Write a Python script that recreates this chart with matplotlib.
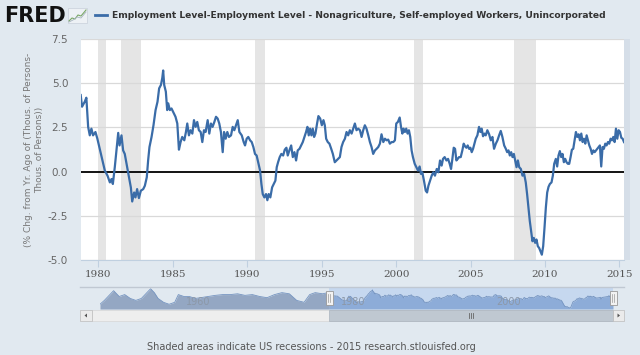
import matplotlib
matplotlib.use("Agg")
import matplotlib.pyplot as plt
from matplotlib.patches import Rectangle, Polygon

# ── Data ─────────────────────────────────────────────────────────────────────
dates = [
    1978.81, 1978.90, 1979.08, 1979.19, 1979.31, 1979.42, 1979.53, 1979.64, 1979.80, 1979.93,
    1980.09, 1980.25, 1980.43, 1980.61, 1980.77, 1980.88, 1980.97, 1981.10, 1981.21, 1981.33,
    1981.42, 1981.55, 1981.66, 1981.77, 1981.89, 1982.04, 1982.18, 1982.27, 1982.40, 1982.49,
    1982.60, 1982.72, 1982.85, 1983.01, 1983.12, 1983.25, 1983.34, 1983.43, 1983.57, 1983.70,
    1983.84, 1983.97, 1984.08, 1984.20, 1984.29, 1984.35, 1984.42, 1984.53, 1984.62, 1984.69,
    1984.80, 1984.91, 1985.07, 1985.18, 1985.30, 1985.41, 1985.52, 1985.63, 1985.77, 1985.88,
    1985.97, 1986.08, 1986.19, 1986.31, 1986.42, 1986.53, 1986.64, 1986.75, 1986.87, 1986.98,
    1987.09, 1987.20, 1987.34, 1987.45, 1987.56, 1987.67, 1987.79, 1987.90, 1988.01, 1988.12,
    1988.23, 1988.35, 1988.44, 1988.55, 1988.66, 1988.77, 1988.91, 1989.02, 1989.13, 1989.24,
    1989.36, 1989.47, 1989.63, 1989.76, 1989.85, 1989.96, 1990.07, 1990.19, 1990.30, 1990.41,
    1990.52, 1990.63, 1990.86, 1990.95, 1991.04, 1991.15, 1991.26, 1991.35, 1991.44, 1991.55,
    1991.67, 1991.78, 1991.89, 1991.98, 1992.07, 1992.18, 1992.29, 1992.41, 1992.52, 1992.63,
    1992.72, 1992.83, 1992.95, 1993.06, 1993.17, 1993.28, 1993.39, 1993.51, 1993.62, 1993.73,
    1993.84, 1993.95, 1994.04, 1994.13, 1994.22, 1994.31, 1994.40, 1994.49, 1994.58, 1994.69,
    1994.78, 1994.90, 1995.01, 1995.12, 1995.21, 1995.30, 1995.41, 1995.52, 1995.64, 1995.75,
    1995.88, 1996.00, 1996.11, 1996.22, 1996.33, 1996.44, 1996.56, 1996.67, 1996.78, 1996.89,
    1997.01, 1997.12, 1997.23, 1997.34, 1997.45, 1997.57, 1997.68, 1997.79, 1997.90, 1998.01,
    1998.13, 1998.24, 1998.35, 1998.46, 1998.58, 1998.69, 1998.80, 1998.91, 1999.02, 1999.14,
    1999.25, 1999.36, 1999.47, 1999.58, 1999.70, 1999.81, 1999.92, 2000.01, 2000.12, 2000.24,
    2000.33, 2000.42, 2000.50, 2000.59, 2000.68, 2000.77, 2000.86, 2000.95, 2001.04, 2001.13,
    2001.25, 2001.36, 2001.47, 2001.58, 2001.67, 2001.76, 2001.87, 2001.99, 2002.08, 2002.17,
    2002.28, 2002.39, 2002.50, 2002.61, 2002.73, 2002.84, 2002.95, 2003.06, 2003.15, 2003.26,
    2003.38, 2003.49, 2003.60, 2003.69, 2003.78, 2003.87, 2003.96, 2004.05, 2004.14, 2004.23,
    2004.34, 2004.45, 2004.54, 2004.63, 2004.72, 2004.81, 2004.90, 2004.99, 2005.08, 2005.17,
    2005.26, 2005.35, 2005.46, 2005.57, 2005.66, 2005.75, 2005.84, 2005.93, 2006.02, 2006.13,
    2006.25, 2006.36, 2006.47, 2006.58, 2006.70, 2006.81, 2006.92, 2007.03, 2007.14, 2007.26,
    2007.37, 2007.46, 2007.55, 2007.64, 2007.73, 2007.82, 2007.91, 2008.00, 2008.09, 2008.18,
    2008.27, 2008.38, 2008.49, 2008.60, 2008.71, 2008.80, 2008.89, 2008.98, 2009.07, 2009.16,
    2009.25, 2009.34, 2009.43, 2009.52, 2009.61, 2009.70, 2009.79, 2009.88, 2009.97, 2010.06,
    2010.15, 2010.24, 2010.33, 2010.44, 2010.53, 2010.62, 2010.73, 2010.82, 2010.91, 2011.00,
    2011.09, 2011.18, 2011.27, 2011.36, 2011.45, 2011.54, 2011.63, 2011.72, 2011.81, 2011.90,
    2011.99, 2012.08, 2012.17, 2012.26, 2012.35, 2012.44, 2012.53, 2012.62, 2012.71, 2012.80,
    2012.89, 2012.98, 2013.07, 2013.16, 2013.25, 2013.34, 2013.43, 2013.52, 2013.60, 2013.69,
    2013.78, 2013.87, 2013.96, 2014.05, 2014.14, 2014.23, 2014.32, 2014.41, 2014.50, 2014.59,
    2014.68, 2014.77, 2014.86, 2014.95, 2015.04, 2015.13, 2015.22, 2015.31,
]
values = [
    4.33, 3.67, 3.95, 4.18, 2.53, 2.05, 2.43, 2.05, 2.24, 1.86,
    1.29, 0.72, 0.06, -0.23, -0.61, -0.42, -0.70, 0.25, 1.20, 2.19,
    1.48, 2.05, 1.20, 1.00, 0.44, -0.23, -0.90, -1.69, -1.18, -1.46,
    -0.99, -1.50, -1.08, -0.99, -0.80, -0.32, 0.63, 1.39, 1.96, 2.62,
    3.48, 3.95, 4.71, 4.90, 5.29, 5.72, 4.90, 4.52, 3.48, 3.86,
    3.48, 3.57, 3.29, 3.10, 2.72, 1.24, 1.67, 1.96, 1.77, 2.24,
    2.72, 2.05, 2.34, 2.15, 2.91, 2.53, 2.81, 2.34, 2.24, 1.67,
    2.34, 2.24, 2.91, 2.15, 2.72, 2.53, 2.81, 3.10, 3.00, 2.72,
    2.24, 1.10, 2.24, 1.86, 2.24, 1.96, 2.05, 2.53, 2.34, 2.62,
    2.91, 2.24, 2.05, 1.67, 1.48, 1.86, 1.96, 1.77, 1.67, 1.39,
    1.00, 0.91, 0.06, -0.70, -1.27, -1.46, -1.27, -1.62, -1.27, -1.46,
    -0.89, -0.70, -0.51, 0.25, 0.53, 0.82, 1.00, 0.91, 1.24, 1.35,
    0.91, 1.20, 1.48, 0.82, 1.10, 0.63, 1.20, 1.29, 1.48, 1.67,
    1.96, 2.24, 2.53, 2.05, 2.43, 2.05, 2.43, 1.96, 2.15, 2.72,
    3.14, 3.00, 2.62, 2.91, 2.62, 1.86, 1.67, 1.58, 1.29, 1.00,
    0.53, 0.63, 0.72, 0.82, 1.39, 1.67, 1.86, 2.24, 2.05, 2.34,
    2.15, 2.43, 2.72, 2.34, 2.43, 2.34, 1.96, 2.34, 2.62, 2.43,
    2.05, 1.67, 1.39, 1.00, 1.20, 1.29, 1.39, 1.58, 2.11, 1.67,
    1.86, 1.77, 1.81, 1.58, 1.67, 1.67, 1.77, 2.72, 2.81, 3.06,
    2.53, 2.15, 2.43, 2.24, 2.43, 2.15, 2.34, 1.96, 1.20, 0.82,
    0.44, 0.25, 0.06, 0.29, -0.13, -0.04, -0.51, -1.08, -1.18, -0.80,
    -0.51, -0.23, -0.04, -0.23, 0.15, -0.04, 0.63, 0.34, 0.72, 0.82,
    0.63, 0.72, 0.44, 0.15, 0.72, 1.35, 1.29, 0.63, 0.72, 0.82,
    0.82, 1.20, 1.58, 1.43, 1.35, 1.48, 1.29, 1.35, 1.10, 1.29,
    1.58, 1.86, 2.05, 2.53, 2.24, 2.43, 2.00, 2.15, 2.05, 2.34,
    2.11, 1.77, 1.96, 1.29, 1.58, 1.77, 2.05, 2.30, 1.96, 1.48,
    1.29, 1.10, 1.20, 0.91, 1.10, 0.82, 1.00, 0.63, 0.25, 0.63,
    0.25, 0.15, -0.23, -0.13, -0.61, -1.27, -2.03, -2.79, -3.36, -3.94,
    -3.75, -4.03, -3.84, -4.22, -4.32, -4.51, -4.70, -4.22, -3.17, -2.03,
    -1.18, -0.86, -0.70, -0.61, -0.23, 0.44, 0.72, 0.29, 0.91, 1.16,
    0.82, 1.00, 0.53, 0.72, 0.53, 0.44, 0.44, 0.82, 1.24, 1.29,
    1.77, 2.24, 1.96, 2.11, 1.77, 2.15, 1.67, 1.86, 1.58, 2.05,
    1.77, 1.48, 1.29, 1.00, 1.20, 1.10, 1.20, 1.29, 1.39, 1.48,
    0.29, 1.39, 1.29, 1.58, 1.48, 1.67, 1.58, 1.86, 1.77, 1.96,
    1.67, 2.43, 1.86, 2.34, 2.24, 1.91, 1.86, 1.67,
]

# earlier history, only visible in the navigator strip
nav_dates = [
    1949.30, 1949.86, 1950.58, 1951.05, 1951.77, 1952.48, 1953.20, 1953.91, 1954.62, 1955.34,
    1955.81, 1956.29, 1956.77, 1957.48, 1958.19, 1958.91, 1959.38, 1960.10, 1960.81, 1961.53,
    1962.24, 1963.19, 1964.14, 1965.09, 1966.05, 1967.00, 1967.95, 1968.90, 1969.85, 1970.80,
    1971.76, 1972.71, 1973.66, 1974.61, 1975.56, 1976.28, 1976.99, 1977.94,
]
nav_values = [
    -2.49, -0.28, 3.04, 5.26, 1.94, 3.04, 0.83, -0.28, 0.83, 4.15,
    6.36, 4.15, 0.83, -1.38, -2.49, -1.38, 3.04, 1.94, 1.94, 0.83,
    1.27, 1.94, 2.60, 3.04, 3.04, 3.49, 2.60, 3.04, 1.94, 1.27,
    3.04, 4.15, 3.49, -0.28, -1.38, 3.04, 4.15, 3.49,
]

recessions = [(1980.0, 1980.5), (1981.5, 1982.83), (1990.5, 1991.17),
              (2001.17, 2001.83), (2007.92, 2009.42)]
yticks = [-5.0, -2.5, 0.0, 2.5, 5.0, 7.5]
xticks = [1980, 1985, 1990, 1995, 2000, 2005, 2010, 2015]
nav_labels = [1960, 1980, 2000]

title = "Employment Level-Employment Level - Nonagriculture, Self-employed Workers, Unincorporated"
ylabel = "(% Chg. from Yr. Ago of (Thous. of Persons-\nThous. of Persons))"
note = "Shaded areas indicate US recessions - 2015 research.stlouisfed.org"

BG = "#E1E9F0"
LINE = "#3A6CA8"
W, H = 640, 355

fig = plt.figure(figsize=(6.4, 3.55), dpi=100, facecolor=BG)


def px_axes(x0, y0, x1, y1, **kw):
    # axes placed by pixel box (top-left origin)
    return fig.add_axes([x0 / W, 1 - y1 / H, (x1 - x0) / W, (y1 - y0) / H], **kw)


# ── Main chart ───────────────────────────────────────────────────────────────
ax = px_axes(80.7, 39, 624, 260)
ax.set_facecolor("white")
for a, b in recessions:
    ax.axvspan(a, b, color="#E5E5E5", lw=0, zorder=0)
for y in yticks:
    if y != 0:
        ax.axhline(y, color="#D9D9D9", lw=0.9, zorder=1)
ax.axhline(0, color="black", lw=1.3, zorder=2)
ax.plot(dates, values, color=LINE, lw=1.6, zorder=3)

ax.set_xlim(dates[0], dates[-1])
ax.set_ylim(yticks[0], yticks[-1])
ax.set_yticks(yticks)
ax.set_yticklabels([f"{v:.1f}" for v in yticks])
ax.set_xticks(xticks)
ax.set_xticklabels([str(x) for x in xticks])
for s in ["top", "right", "left"]:
    ax.spines[s].set_visible(False)
ax.spines["bottom"].set_color("#C0D0E0")
ax.tick_params(axis="y", length=0, pad=9, labelsize=7.5, labelcolor="#666666")
ax.tick_params(axis="x", length=5, width=0.8, color="#C0D0E0", pad=2,
               labelsize=7.5, labelcolor="#555555")
for lbl in ax.get_xticklabels():
    lbl.set_fontfamily("DejaVu Serif")

fig.text(34 / W, 1 - 150 / H, ylabel, rotation=90, ha="center", va="center",
         multialignment="center", fontsize=6.5, color="#777777", linespacing=1.35)

# ── Navigator ────────────────────────────────────────────────────────────────
nav = px_axes(100, 288, 613, 309)
nav.axis("off")
nav.set_xlim(nav_dates[0], dates[-1])
nav.set_ylim(-5.2, 6.8)
nav.axvspan(dates[0], dates[-1], color="#C6D8EF", lw=0, zorder=0)
nav.fill_between(nav_dates + [dates[0]], nav_values + [values[0]], -5.2,
                 color="#94A7C3", lw=0, zorder=1)
nav.fill_between(dates, values, -5.2, color="#8DACD8", lw=0, zorder=1)
nav.plot(nav_dates + dates, nav_values + values, color="#7594C0", lw=0.6, zorder=2)
for yr in nav_labels:
    nav.text(yr + 0.3, 0.33, str(yr), transform=nav.get_xaxis_transform(),
             fontsize=7, color="#8C98A8", va="center", ha="left", zorder=3)

# ── Decorations drawn in pixel space ────────────────────────────────────────
ov = fig.add_axes([0, 0, 1, 1], zorder=5)
ov.set_xlim(0, W)
ov.set_ylim(H, 0)
ov.axis("off")

# FRED logo + icon
ov.text(4, 16, "FRED", fontsize=15, fontweight="bold", color="#111111",
        va="center", ha="left")
ov.add_patch(Rectangle((68, 8), 19, 15, fc="#EDF1F5", ec="#C8D0DA", lw=0.5))
ov.plot([69, 72, 75, 78, 81, 86], [21, 18, 19, 15, 16, 10], color="#7AA866", lw=0.8)
ov.plot([69, 73, 77, 81, 86], [22, 20, 17, 18, 12], color="#A8B4C0", lw=0.6)

# legend entry / title
ov.plot([95, 107], [15, 15], color=LINE, lw=2)
ov.text(112, 15.5, title, fontsize=6.62, fontweight="bold", color="#333333",
        va="center", ha="left")

# faint strip right of the plot
ov.add_patch(Rectangle((624, 39), 6, 221, fc="#D5DEE8", lw=0))

# navigator frame line
ov.plot([80, 624], [287, 287], color="#C0C8D2", lw=1)

# scrollbar
x_sel0 = 100 + (dates[0] - nav_dates[0]) / (dates[-1] - nav_dates[0]) * 513
ov.add_patch(Rectangle((92, 310), 521, 11, fc="#EEEEEE", ec="#D6D6D6", lw=0.5))
ov.add_patch(Rectangle((x_sel0, 310), 613 - x_sel0, 11, fc="#BFC8D1", ec="#AAB4BE", lw=0.5))
xm = (x_sel0 + 613) / 2
for dx in (-2, 0, 2):
    ov.plot([xm + dx, xm + dx], [313, 318], color="#666666", lw=0.6)
ov.add_patch(Rectangle((80, 310), 12, 11, fc="#EBEBEB", ec="#BBBBBB", lw=0.5))
ov.add_patch(Polygon([(84.5, 315.5), (87, 313.5), (87, 317.5)], fc="#555555", lw=0))
ov.add_patch(Rectangle((613, 310), 11, 11, fc="#EBEBEB", ec="#BBBBBB", lw=0.5))
ov.add_patch(Polygon([(620, 315.5), (617.5, 313.5), (617.5, 317.5)], fc="#555555", lw=0))

# navigator handles
for hx in (x_sel0, 613):
    ov.add_patch(Rectangle((hx - 3.5, 291), 7, 14, fc="#F2F2F2", ec="#999999", lw=0.6))
    for dx in (-1, 1):
        ov.plot([hx + dx, hx + dx], [294, 302], color="#999999", lw=0.5)

# footer
ov.text(311, 347, note, fontsize=7, color="#555555", ha="center", va="center")

fig.savefig("out.png", dpi=100, facecolor=BG)
